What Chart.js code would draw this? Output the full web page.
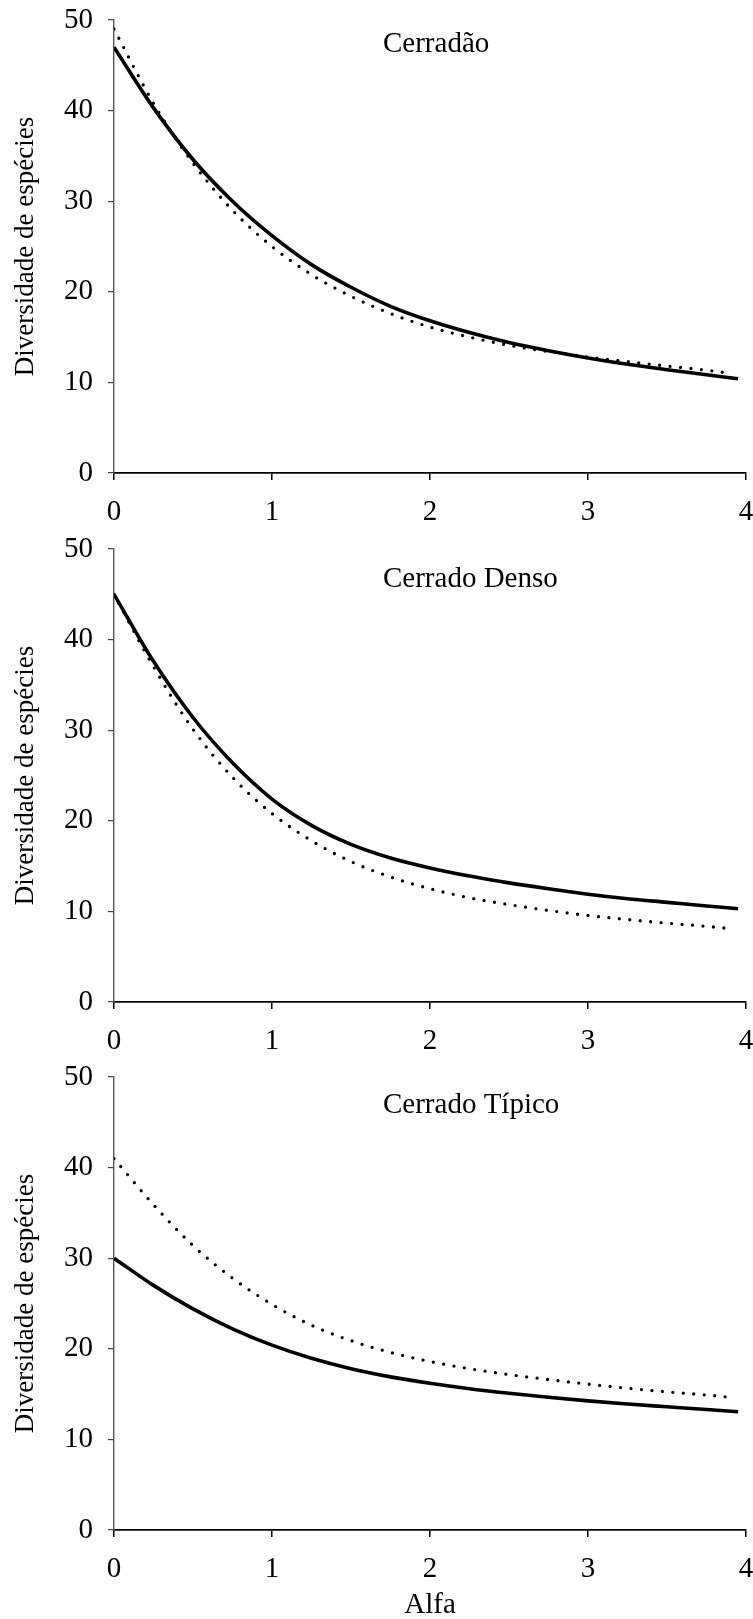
<!DOCTYPE html>
<html>

<head>
    <title>Diversidade de espécies x Alfa</title>
    <style type="text/css">
        html, body {
            margin: 0;
            padding: 0;
            background: #fff;
            overflow: hidden;
        }

        #panels {
            position: relative;
            width: 753px;
            height: 1619px;
        }

        #panels canvas {
            position: absolute;
            left: 0;
        }
    </style>
    <script type="text/javascript" src="https://cdn.jsdelivr.net/npm/chart.js@4/dist/chart.umd.min.js"></script>
</head>

<body>
    <div id="panels">
        <canvas id="graph1" width="753" height="533" style="top:0px"></canvas>
        <canvas id="graph2" width="753" height="533" style="top:529px"></canvas>
        <canvas id="graph3" width="753" height="563" style="top:1057px"></canvas>
    </div>

    <script>
        // alfa values (x) for each curve
        var alfaSolid = [0, 0.25, 0.5, 0.75, 1, 1.25, 1.5, 1.75, 2, 2.25, 2.5, 2.75, 3, 3.25, 3.5, 3.75, 3.95];
        var alfaDotted = [0, 0.25, 0.5, 0.75, 1, 1.25, 1.5, 1.75, 2, 2.25, 2.5, 2.75, 3, 3.25, 3.5, 3.75, 3.9];

        // Cerradão
        var cerradaoSolid = [47.0, 40.3, 34.6, 30.0, 26.2, 23.0, 20.5, 18.4, 16.8, 15.5, 14.4, 13.5, 12.7, 12.0, 11.4, 10.85, 10.4];
        var cerradaoDotted = [49.0, 40.8, 34.2, 29.0, 25.0, 21.9, 19.5, 17.6, 16.1, 15.0, 14.1, 13.4, 12.8, 12.3, 11.8, 11.35, 11.0];

        // Cerrado Denso
        var densoSolid = [45.0, 37.6, 31.4, 26.4, 22.4, 19.5, 17.4, 15.9, 14.8, 13.9, 13.15, 12.5, 11.9, 11.4, 11.0, 10.6, 10.3];
        var densoDotted = [45.0, 37.0, 30.1, 24.8, 20.8, 17.8, 15.5, 13.8, 12.5, 11.5, 10.75, 10.1, 9.55, 9.1, 8.7, 8.35, 8.1];

        // Cerrado Típico
        var tipicoSolid = [30.0, 27.0, 24.4, 22.2, 20.4, 18.95, 17.8, 16.9, 16.2, 15.6, 15.1, 14.65, 14.25, 13.9, 13.6, 13.3, 13.05];
        var tipicoDotted = [41.0, 35.9, 31.4, 27.8, 24.9, 22.6, 20.9, 19.6, 18.6, 17.8, 17.15, 16.6, 16.1, 15.65, 15.25, 14.9, 14.65];

        var yTicks = [0, 10, 20, 30, 40, 50];
        var xTicks = [0, 1, 2, 3, 4];

        var FONT = "'Liberation Serif', 'Times New Roman', serif";

        function toPoints(xs, ys) {
            var pts = [];
            for (var i = 0; i < xs.length; i++) {
                pts.push({ x: xs[i], y: ys[i] });
            }
            return pts;
        }

        // panel heading, left aligned at a fixed spot
        var headingPlugin = {
            id: 'heading',
            afterDraw: function (chart, args, opts) {
                var ctx = chart.ctx;
                ctx.save();
                ctx.font = '29px ' + FONT;
                ctx.fillStyle = '#000';
                ctx.textAlign = 'left';
                ctx.textBaseline = 'alphabetic';
                ctx.fillText(opts.text, opts.x, opts.y);
                ctx.restore();
            }
        };

        function showGraph(id, solid, dotted, heading, withAlfa) {
            var axisHeight = withAlfa ? 90 : 60;

            new Chart(document.getElementById(id), {
                type: 'line',
                data: {
                    datasets: [
                        {
                            label: 'solid',
                            data: toPoints(alfaSolid, solid),
                            borderColor: '#000',
                            borderWidth: 3.6,
                            pointRadius: 0,
                            cubicInterpolationMode: 'monotone',
                            fill: false
                        },
                        {
                            label: 'dotted',
                            data: toPoints(alfaDotted, dotted),
                            borderColor: '#000',
                            borderWidth: 3.3,
                            borderDash: [0, 10.5],
                            borderCapStyle: 'round',
                            pointRadius: 0,
                            cubicInterpolationMode: 'monotone',
                            fill: false
                        }
                    ]
                },
                options: {
                    responsive: false,
                    animation: false,
                    layout: {
                        padding: { top: 20, right: 7, left: 0, bottom: 0 }
                    },
                    plugins: {
                        legend: { display: false },
                        tooltip: { enabled: false },
                        heading: heading
                    },
                    scales: {
                        x: {
                            type: 'linear',
                            min: 0,
                            max: 4,
                            afterFit: function (scale) {
                                scale.height = axisHeight;
                                scale.paddingLeft = 0;
                                scale.paddingRight = 0;
                            },
                            afterBuildTicks: function (scale) {
                                scale.ticks = xTicks.map(function (v) { return { value: v }; });
                            },
                            grid: {
                                drawOnChartArea: false,
                                drawTicks: true,
                                tickLength: 7,
                                color: '#000',
                                lineWidth: 1.5
                            },
                            border: { display: true, color: '#000', width: 1.8 },
                            ticks: {
                                color: '#000',
                                padding: 15,
                                font: { family: FONT, size: 29 },
                                maxRotation: 0
                            },
                            title: {
                                display: withAlfa,
                                text: 'Alfa',
                                color: '#000',
                                font: { family: FONT, size: 29, lineHeight: 1 },
                                padding: { top: 0, bottom: 0 }
                            }
                        },
                        y: {
                            min: 0,
                            max: 50,
                            afterFit: function (scale) {
                                scale.width = 114;
                                scale.paddingTop = 0;
                                scale.paddingBottom = 0;
                            },
                            afterBuildTicks: function (scale) {
                                scale.ticks = yTicks.map(function (v) { return { value: v }; });
                            },
                            grid: {
                                drawOnChartArea: false,
                                drawTicks: true,
                                tickLength: 6,
                                color: '#444',
                                lineWidth: 1.2
                            },
                            border: { display: true, color: '#555', width: 1.4 },
                            ticks: {
                                color: '#000',
                                padding: 15,
                                font: { family: FONT, size: 29 }
                            },
                            title: {
                                display: true,
                                text: 'Diversidade de espécies',
                                color: '#000',
                                font: { family: FONT, size: 27 },
                                padding: { top: 10, bottom: 0 }
                            }
                        }
                    }
                },
                plugins: [headingPlugin]
            });
        }

        showGraph('graph1', cerradaoSolid, cerradaoDotted, { text: 'Cerradão', x: 383, y: 52 }, false);
        showGraph('graph2', densoSolid, densoDotted, { text: 'Cerrado Denso', x: 383, y: 58 }, false);
        showGraph('graph3', tipicoSolid, tipicoDotted, { text: 'Cerrado Típico', x: 383, y: 56 }, true);
    </script>

</body>

</html>
